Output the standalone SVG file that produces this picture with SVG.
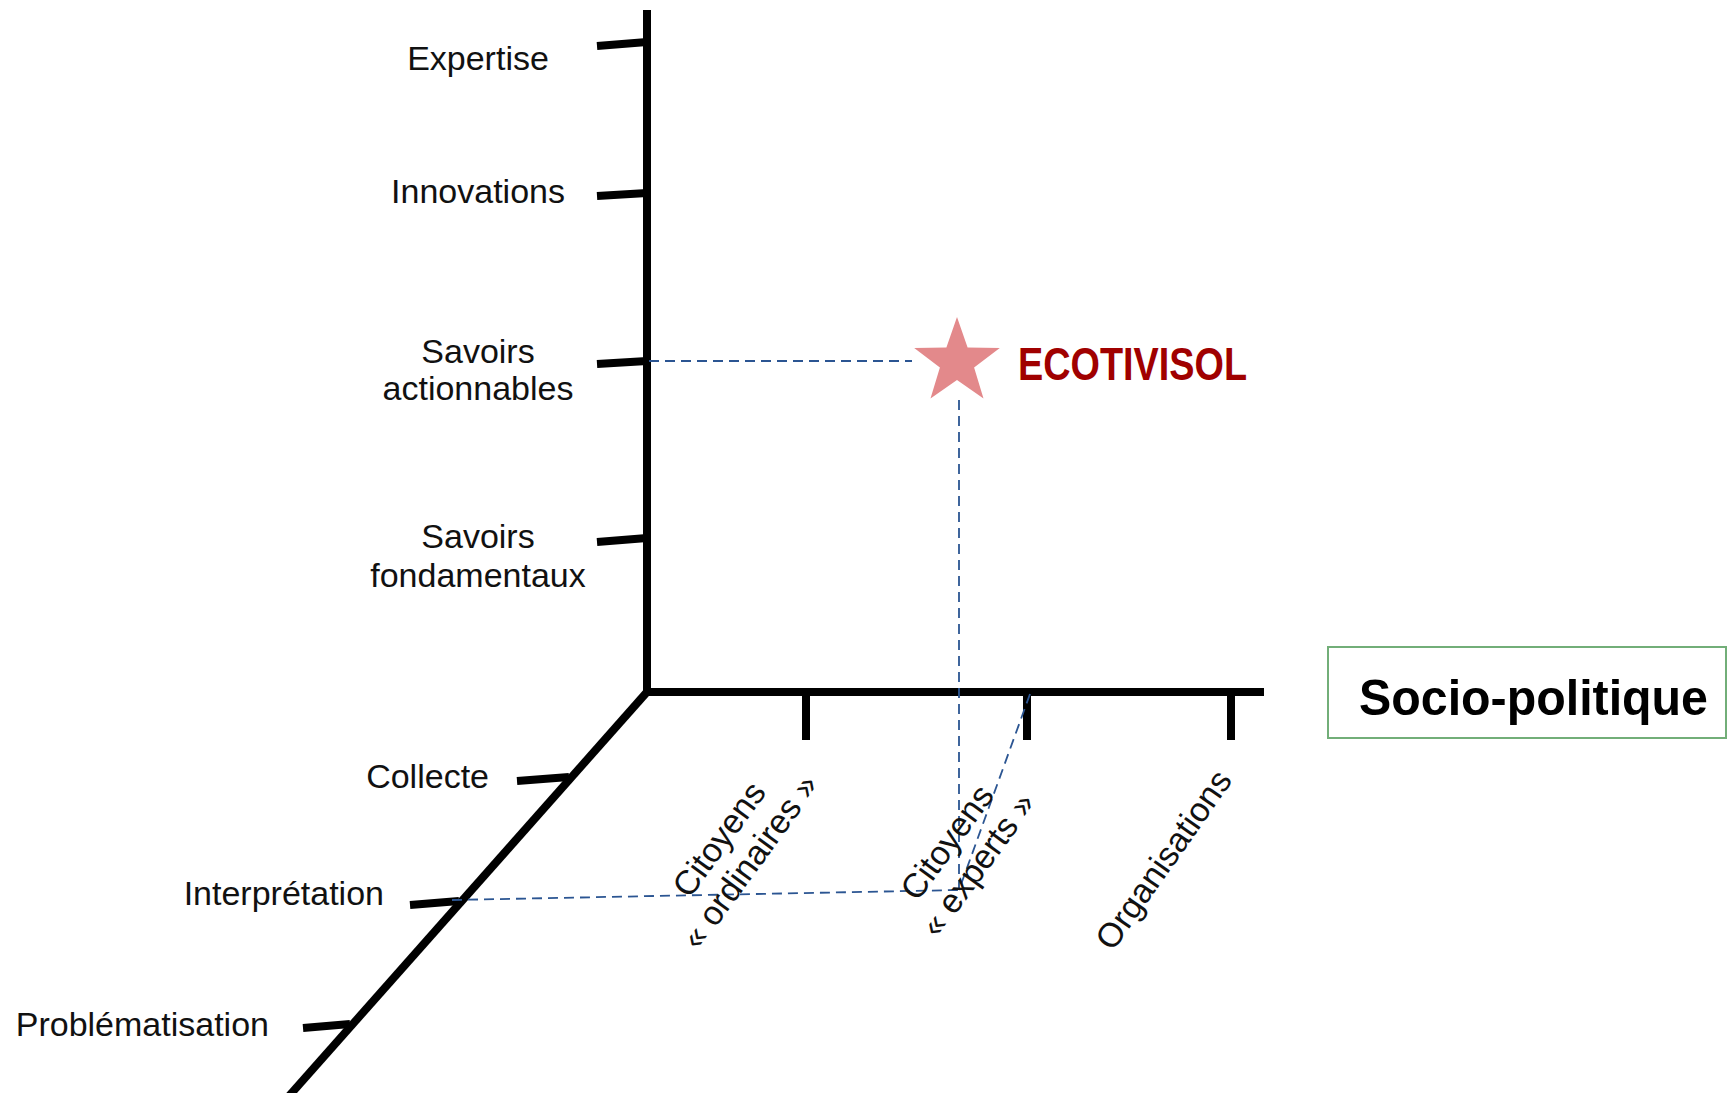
<svg xmlns="http://www.w3.org/2000/svg" width="1735" height="1093" viewBox="0 0 1735 1093">
<style>
.axis{fill:none;stroke:#000;stroke-width:8;stroke-linejoin:miter;stroke-linecap:butt}
.tick{stroke:#000;stroke-width:8;stroke-linecap:butt}
.dash{fill:none;stroke:#2B5592;stroke-width:1.8;stroke-dasharray:10 6}
.lbl{font-family:"Liberation Sans",Arial,sans-serif;font-size:34px;fill:#111}
.rot{font-family:"Liberation Sans",Arial,sans-serif;font-size:34px;fill:#111;text-anchor:middle}
</style>
<rect width="1735" height="1093" fill="#fff"/>
<g id="axes">
<polyline class="axis" points="647,10 647,692 1264,692"/>
<line class="axis" x1="647" y1="692" x2="289" y2="1096"/>
<line class="tick" x1="597" y1="46" x2="647" y2="42"/>
<line class="tick" x1="597" y1="196" x2="647" y2="193"/>
<line class="tick" x1="597" y1="364" x2="647" y2="361"/>
<line class="tick" x1="597" y1="542" x2="647" y2="538"/>
<line class="tick" x1="806" y1="692" x2="806" y2="740"/>
<line class="tick" x1="1027" y1="692" x2="1027" y2="740"/>
<line class="tick" x1="1231" y1="692" x2="1231" y2="740"/>
<line class="tick" x1="517" y1="781" x2="569" y2="777"/>
<line class="tick" x1="410" y1="905" x2="459" y2="901"/>
<line class="tick" x1="303" y1="1028" x2="350" y2="1024"/>
</g>
<g id="connectors">
<line class="dash" x1="649" y1="361" x2="912" y2="361"/>
<line class="dash" x1="959" y1="400" x2="959" y2="890"/>
<line class="dash" x1="1030" y1="694" x2="959" y2="890"/>
<line class="dash" x1="452" y1="900" x2="959" y2="890"/>
</g>
<g id="label-expertise"><text class="lbl" x="478" y="70" text-anchor="middle">Expertise</text></g>
<g id="label-innovations"><text class="lbl" x="478" y="203" text-anchor="middle">Innovations</text></g>
<g id="label-savoirs-actionnables"><text class="lbl" text-anchor="middle"><tspan x="478" y="363">Savoirs</tspan><tspan x="478" y="400">actionnables</tspan></text></g>
<g id="label-savoirs-fondamentaux"><text class="lbl" text-anchor="middle"><tspan x="478" y="548">Savoirs</tspan><tspan x="478" y="587">fondamentaux</tspan></text></g>
<g id="label-collecte"><text class="lbl" x="489" y="788" text-anchor="end">Collecte</text></g>
<g id="label-interpretation"><text class="lbl" x="384" y="905" text-anchor="end">Interprétation</text></g>
<g id="label-problematisation"><text class="lbl" x="269" y="1036" text-anchor="end">Problématisation</text></g>
<g id="label-citoyens-ordinaires" transform="translate(734,850) rotate(-54)"><text class="rot"><tspan x="0" y="-7">Citoyens</tspan><tspan x="0" y="31">« ordinaires »</tspan></text></g>
<g id="label-citoyens-experts" transform="translate(962,853) rotate(-54)"><text class="rot"><tspan x="0" y="-7">Citoyens</tspan><tspan x="0" y="31">« experts »</tspan></text></g>
<g id="label-organisations" transform="translate(1164,860) rotate(-55)"><text class="rot" x="0" y="11">Organisations</text></g>
<g id="ecotivisol">
<polygon fill="#E3898B" points="957,317 967.6,347.4 999.8,348.1 974.1,367.6 983.5,398.4 957,380.0 930.5,398.4 939.9,367.6 914.2,348.1 946.4,347.4"/>
<text x="1018" y="380" font-family="Liberation Sans,Arial,sans-serif" font-weight="bold" font-size="47" fill="#A00000" textLength="229" lengthAdjust="spacingAndGlyphs">ECOTIVISOL</text>
</g>
<g id="socio-politique">
<rect x="1328" y="647" width="398" height="91" fill="#fff" stroke="#72AE78" stroke-width="2"/>
<text x="1359" y="715" font-family="Liberation Sans,Arial,sans-serif" font-weight="bold" font-size="50" fill="#000" textLength="349" lengthAdjust="spacingAndGlyphs">Socio-politique</text>
</g>
</svg>
